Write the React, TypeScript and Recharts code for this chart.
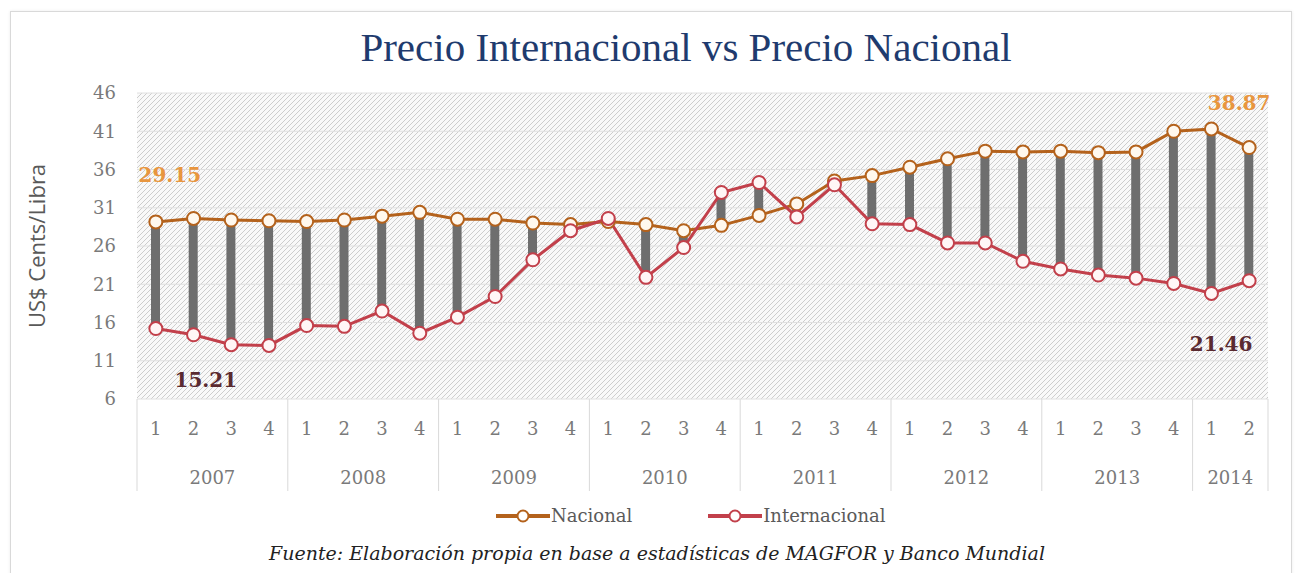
import {
  Bar,
  CartesianGrid,
  ComposedChart,
  LabelList,
  Line,
  XAxis,
  YAxis,
} from "recharts";

const anios = ["2007", "2008", "2009", "2010", "2011", "2012", "2013", "2014"];
const trimestresPorAnio = [4, 4, 4, 4, 4, 4, 4, 2];

const nacional = [
  29.15, 29.6, 29.4, 29.3, 29.2, 29.4, 29.9, 30.4, 29.5, 29.5, 29.0, 28.8,
  29.2, 28.8, 28.0, 28.7, 30.0, 31.5, 34.5, 35.2, 36.3, 37.4, 38.4, 38.3,
  38.4, 38.2, 38.3, 41.0, 41.3, 38.87,
];

const internacional = [
  15.21, 14.4, 13.1, 13.0, 15.6, 15.5, 17.5, 14.6, 16.7, 19.4, 24.2, 28.0,
  29.6, 21.9, 25.8, 33.0, 34.3, 29.8, 34.0, 28.9, 28.8, 26.4, 26.4, 24.0,
  23.0, 22.2, 21.8, 21.1, 19.8, 21.46,
];

const yTicks = [6, 11, 16, 21, 26, 31, 36, 41, 46];

const data = anios.flatMap((anio, i) =>
  Array.from({ length: trimestresPorAnio[i] }, (_, q) => ({ anio, trimestre: String(q + 1) })),
).map((row, i) => ({
  ...row,
  key: `${row.anio}-${row.trimestre}`,
  nacional: nacional[i],
  internacional: internacional[i],
  rango: [Math.min(nacional[i], internacional[i]), Math.max(nacional[i], internacional[i])],
}));

const CHART_W = 1299;
const PLOT_LEFT = 137;
const PLOT_RIGHT = 1268;
const STEP = (PLOT_RIGHT - PLOT_LEFT) / data.length;
const Y_AXIS_W = 60;

const NAC = "#B4621C";
const INT = "#C2404B";
const serif = "'DejaVu Serif', serif";

function YearTick(props: any) {
  const { x, y, payload } = props;
  const i = payload.index;
  const row = data[i];
  const first = i === 0 || data[i - 1].anio !== row.anio;
  const last = i === data.length - 1;
  const count = data.filter((d) => d.anio === row.anio).length;
  const top = y - 45;
  const bottom = y + 47;
  return (
    <g>
      {first ? (
        <>
          <line x1={x - STEP / 2} x2={x - STEP / 2} y1={top} y2={bottom} stroke="#d9d9d9" />
          <text
            x={x - STEP / 2 + (count * STEP) / 2}
            y={y + 40}
            textAnchor="middle"
            fontFamily={serif}
            fontSize={18}
            fill="#7a7a7a"
          >
            {row.anio}
          </text>
        </>
      ) : null}
      {last ? (
        <line x1={x + STEP / 2} x2={x + STEP / 2} y1={top} y2={bottom} stroke="#d9d9d9" />
      ) : null}
    </g>
  );
}

function endLabel(color: string, offsets: { first: [number, number]; last: [number, number] }) {
  return (props: any) => {
    const { x, y, index, value } = props;
    if (index !== 0 && index !== data.length - 1) return null;
    const [dx, dy] = index === 0 ? offsets.first : offsets.last;
    return (
      <text
        x={x + dx}
        y={y + dy}
        textAnchor="middle"
        fontFamily={serif}
        fontWeight="bold"
        fontSize={20}
        fill={color}
      >
        {Number(value).toFixed(2)}
      </text>
    );
  };
}

function LegendItem({ color, label, gap }: { color: string; label: string; gap: number }) {
  return (
    <span style={{ display: "inline-flex", alignItems: "center", marginRight: gap }}>
      <svg width={54} height={16}>
        <line x1={0} x2={54} y1={8} y2={8} stroke={color} strokeWidth={4} />
        <circle cx={27} cy={8} r={5.5} fill="#fff" stroke={color} strokeWidth={2} />
      </svg>
      <span style={{ marginLeft: 1, fontFamily: serif }}>{label}</span>
    </span>
  );
}

export default function App() {
  return (
    <div
      style={{
        position: "absolute",
        left: 0,
        top: 0,
        width: CHART_W,
        height: 573,
        background: "#fff",
        overflow: "hidden",
      }}
    >
      <div
        style={{
          position: "absolute",
          left: 10,
          top: 11,
          width: 1280,
          height: 600,
          border: "1px solid #d9d9d9",
          boxShadow: "0 0 3px rgba(0,0,0,0.08)",
        }}
      />
      <div
        style={{
          position: "absolute",
          left: 0,
          top: 23,
          width: 1372,
          textAlign: "center",
          fontFamily: "'Liberation Serif', serif",
          fontSize: 41,
          color: "#1F3B6E",
        }}
      >
        Precio Internacional vs Precio Nacional
      </div>
      <div style={{ position: "absolute", left: 0, top: 0 }}>
        <ComposedChart
          width={CHART_W}
          height={500}
          data={data}
          margin={{ top: 93, right: CHART_W - PLOT_RIGHT, bottom: 6, left: PLOT_LEFT - Y_AXIS_W }}
        >
          <defs>
            <pattern id="hatch" patternUnits="userSpaceOnUse" width={5} height={5}>
              <rect width={5} height={5} fill="#f9f9f9" />
              <path d="M0,5 L5,0 M-1,1 L1,-1 M4,6 L6,4" stroke="#cdcdcd" strokeWidth={1} />
            </pattern>
          </defs>
          <CartesianGrid fill="url(#hatch)" fillOpacity={1} stroke="#e0e0e0" vertical={false} />
          <XAxis
            dataKey="key"
            height={45}
            axisLine={false}
            tickLine={false}
            tickSize={0}
            tickMargin={23}
            interval={0}
            tickFormatter={(_v: string, i: number) => data[i].trimestre}
            tick={{ fontFamily: serif, fontSize: 18, fill: "#7a7a7a" }}
          />
          <XAxis
            xAxisId="anio"
            dataKey="key"
            height={50}
            axisLine={false}
            tickLine={false}
            tickSize={0}
            tickMargin={0}
            interval={0}
            tick={<YearTick />}
          />
          <YAxis
            width={Y_AXIS_W}
            domain={[6, 46]}
            ticks={yTicks}
            axisLine={false}
            tickLine={false}
            tickSize={0}
            tickMargin={21}
            tick={{ fontFamily: serif, fontSize: 18, fill: "#7a7a7a" }}
            label={({ viewBox }: any) => (
              <text
                x={0}
                y={0}
                transform={`translate(45, ${viewBox.y + viewBox.height / 2}) rotate(-90)`}
                textAnchor="middle"
                fontFamily="'Open Sans', sans-serif"
                fontSize={22}
                fill="#595959"
              >
                US$ Cents/Libra
              </text>
            )}
          />
          <Bar dataKey="rango" barSize={9} fill="#6e6e6e" isAnimationActive={false} />
          <Line
            dataKey="nacional"
            stroke={NAC}
            strokeWidth={3}
            dot={{ r: 6.5, fill: "#fff8ee", stroke: NAC, strokeWidth: 2 }}
            isAnimationActive={false}
          >
            <LabelList
              dataKey="nacional"
              content={endLabel("#E8963F", { first: [14, -40], last: [-10, -38] })}
            />
          </Line>
          <Line
            dataKey="internacional"
            stroke={INT}
            strokeWidth={3}
            dot={{ r: 6.5, fill: "#fff6f6", stroke: INT, strokeWidth: 2 }}
            isAnimationActive={false}
          >
            <LabelList
              dataKey="internacional"
              content={endLabel("#5A2A30", { first: [50, 58], last: [-28, 70] })}
            />
          </Line>
        </ComposedChart>
      </div>
      <div
        style={{
          position: "absolute",
          left: 496,
          top: 505,
          fontSize: 18,
          color: "#5a5a5a",
          display: "flex",
        }}
      >
        <LegendItem color={NAC} label="Nacional" gap={76} />
        <LegendItem color={INT} label="Internacional" gap={0} />
      </div>
      <div
        style={{
          position: "absolute",
          left: 0,
          top: 542,
          width: 1314,
          textAlign: "center",
          fontFamily: serif,
          fontStyle: "italic",
          fontSize: 19,
          color: "#222",
        }}
      >
        Fuente: Elaboración propia en base a estadísticas de MAGFOR y Banco Mundial
      </div>
    </div>
  );
}
